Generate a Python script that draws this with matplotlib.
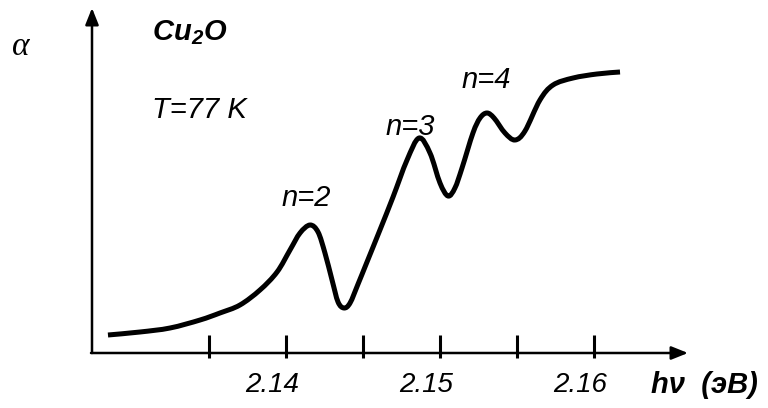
import matplotlib
matplotlib.use("Agg")
import matplotlib.pyplot as plt
from matplotlib.path import Path
from matplotlib.patches import PathPatch

plt.rcParams['font.family'] = ['Liberation Sans', 'DejaVu Sans']
plt.rcParams['mathtext.fontset'] = 'custom'
plt.rcParams['mathtext.rm'] = 'Liberation Sans:italic:bold'
plt.rcParams['mathtext.it'] = 'Liberation Sans:italic:bold'

# Data: photon energy (eV) vs absorption (arb. units)
energy = [2.12844, 2.13052, 2.13247, 2.13442, 2.13571, 2.13701, 2.13831, 2.13942,
          2.14026, 2.14091, 2.14156, 2.14208, 2.14253, 2.14299, 2.14338, 2.14377,
          2.14416, 2.14468, 2.14526, 2.14610, 2.14695, 2.14786, 2.14864, 2.14935,
          2.15000, 2.15052, 2.15097, 2.15143, 2.15214, 2.15260, 2.15305, 2.15351,
          2.15422, 2.15487, 2.15552, 2.15649, 2.15734, 2.15864, 2.16019, 2.16169]
alpha = [0.18, 0.21, 0.25, 0.33, 0.40, 0.48, 0.63, 0.81,
         1.03, 1.20, 1.28, 1.21, 1.00, 0.73, 0.51, 0.45,
         0.50, 0.69, 0.91, 1.23, 1.56, 1.93, 2.15, 2.00,
         1.70, 1.57, 1.65, 1.85, 2.20, 2.35, 2.40, 2.35,
         2.20, 2.13, 2.22, 2.53, 2.68, 2.75, 2.79, 2.81]
tick_positions = [2.135, 2.140, 2.145, 2.150, 2.155, 2.160]
tick_labels = ["2.14", "2.15", "2.16"]
tick_label_pos = [2.14, 2.15, 2.16]
peak_labels = ["n=2", "n=3", "n=4"]
peak_label_pos = [(2.1413, 1.55), (2.1481, 2.26), (2.1530, 2.73)]

W, H = 768, 408
fig = plt.figure(figsize=(W / 100, H / 100), dpi=100)
ax = fig.add_axes([0, 0, 1, 1])
x0, x1 = 2.121429, 2.171299
y0, y1 = -0.55, 3.53
ax.set_xlim(x0, x1)
ax.set_ylim(y0, y1)
ax.axis('off')

def px2e(px):
    return x0 + px / W * (x1 - x0)

# axes with arrows
ax.annotate("", xy=(px2e(688), 0), xytext=(px2e(91), 0),
            arrowprops=dict(arrowstyle="-|>,head_length=1.0,head_width=0.4",
                            color="black", lw=1.8, shrinkA=0, shrinkB=0))
ax.annotate("", xy=(px2e(92), 3.45), xytext=(px2e(92), 0),
            arrowprops=dict(arrowstyle="-|>,head_length=1.0,head_width=0.4",
                            color="black", lw=1.8, shrinkA=0, shrinkB=0))
ax.vlines(tick_positions, -0.05, 0.18, color="black", lw=2.2)

# smooth curve through the read points (Catmull-Rom drawn as Bezier path)
pts = list(zip(energy, alpha))
verts = [pts[0]]
codes = [Path.MOVETO]
n = len(pts)
for i in range(n - 1):
    p0 = pts[i - 1] if i > 0 else pts[i]
    p1 = pts[i]
    p2 = pts[i + 1]
    p3 = pts[i + 2] if i + 2 < n else pts[i + 1]
    c1 = (p1[0] + (p2[0] - p0[0]) / 6, p1[1] + (p2[1] - p0[1]) / 6)
    c2 = (p2[0] - (p3[0] - p1[0]) / 6, p2[1] - (p3[1] - p1[1]) / 6)
    verts += [c1, c2, p2]
    codes += [Path.CURVE4] * 3
ax.add_patch(PathPatch(Path(verts, codes), facecolor='none', edgecolor='black',
                       lw=3.6, capstyle='butt', joinstyle='round',
                       transform=ax.transData))

# tick labels (offset slightly left of ticks as in reference)
for pos, lab in zip(tick_label_pos, tick_labels):
    ax.text(pos - 0.0009, -0.32, lab, fontsize=20, style='italic',
            ha='center', va='center')
fig.text(651 / W, 1 - 385 / H, "h\u03bd  (\u044d\u0412)", fontsize=21,
         fontweight='bold', style='italic', ha='left', va='center')

for (px_, py_), lab in zip(peak_label_pos, peak_labels):
    ax.text(px_, py_, lab, fontsize=21, style='italic', ha='center', va='center')

fig.text(152 / W, 1 - 33 / H, r"$\mathrm{Cu_2O}$", fontsize=21,
         ha='left', va='center')
fig.text(152 / W, 1 - 110 / H, "T=77 K", fontsize=21, style='italic',
         ha='left', va='center')
fig.text(21 / W, 1 - 47 / H, "\u03b1", fontsize=24, style='italic',
         family=['Liberation Serif', 'DejaVu Serif'], ha='center', va='center')

fig.savefig("out.png", dpi=100)
